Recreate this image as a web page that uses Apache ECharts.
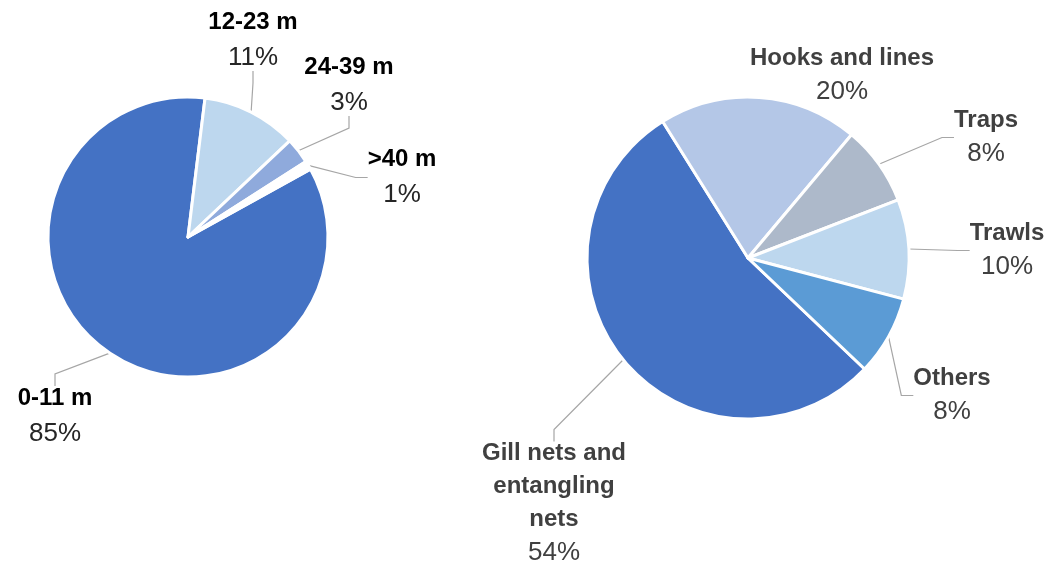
<!DOCTYPE html>
<html>
<head>
<meta charset="utf-8">
<script src="https://cdn.jsdelivr.net/npm/echarts@6/dist/echarts.min.js"></script>
<style>
  html, body { margin: 0; padding: 0; background: #ffffff; }
  #chart { width: 1048px; height: 563px; }
</style>
</head>
<body>
<div id="chart"></div>
<script>
// Fleet by vessel length
const lengthClasses = ['0-11 m', '12-23 m', '24-39 m', '>40 m'];
const lengthShares = [85, 11, 3, 1];

// Fleet by main fishing gear
const gearTypes = ['Gill nets and\nentangling\nnets', 'Hooks and lines', 'Traps', 'Trawls', 'Others'];
const gearShares = [54, 20, 8, 10, 8];

// Slice colours
const lengthColors = ['#4472C4', '#BDD7EE', '#8FAADC', '#FFFFFF'];
const gearColors = ['#4472C4', '#B4C7E7', '#ADB9CA', '#BDD7EE', '#5B9BD5'];

// Label anchor points (centre of each label block), in pixels
const lengthLabelAt = [[55, 416], [253, 40], [349, 85], [402, 177]];
const gearLabelAt = [[554, 503], [842, 75], [986, 137], [1007, 250], [952, 395]];

const FONT = '"Liberation Sans", Arial, sans-serif';

function richLabel(nameColor, pctColor, lh) {
  return {
    n: { fontFamily: FONT, fontWeight: 'bold', fontSize: 24, color: nameColor, lineHeight: lh, align: 'center' },
    p: { fontFamily: FONT, fontWeight: 'normal', fontSize: 26, color: pctColor, lineHeight: lh, align: 'center' }
  };
}

function formatLabel(p) {
  const lines = p.name.split('\n').map(s => '{n|' + s + '}');
  lines.push('{p|' + p.value + '%}');
  return lines.join('\n');
}

function pieSeries(cfg) {
  return {
    type: 'pie',
    center: cfg.center,
    radius: cfg.radius,
    startAngle: cfg.startAngle,
    clockwise: true,
    avoidLabelOverlap: false,
    silent: true,
    itemStyle: { borderColor: '#ffffff', borderWidth: 3 },
    label: {
      show: true,
      position: 'outside',
      formatter: formatLabel,
      rich: richLabel(cfg.nameColor, cfg.pctColor, cfg.lineHeight)
    },
    labelLine: {
      show: true,
      length: 10,
      length2: 12,
      smooth: false,
      lineStyle: { color: '#A6A6A6', width: 1.2 }
    },
    labelLayout: function (params) {
      const at = cfg.labelAt[params.dataIndex];
      return { x: at[0], y: at[1], align: 'center', verticalAlign: 'middle' };
    },
    data: cfg.names.map((name, i) => {
      const item = { name: name, value: cfg.values[i], itemStyle: { color: cfg.colors[i] } };
      if (cfg.noLine && cfg.noLine.indexOf(i) >= 0) item.labelLine = { show: false };
      return item;
    })
  };
}

const chart = echarts.init(document.getElementById('chart'), null, { renderer: 'canvas' });
chart.setOption({
  animation: false,
  backgroundColor: '#ffffff',
  series: [
    pieSeries({
      center: [188, 237], radius: 140, startAngle: 29,
      names: lengthClasses, values: lengthShares, colors: lengthColors,
      labelAt: lengthLabelAt, nameColor: '#000000', pctColor: '#262626', lineHeight: 36
    }),
    pieSeries({
      center: [748, 258], radius: 161, startAngle: -43.6,
      names: gearTypes, values: gearShares, colors: gearColors,
      labelAt: gearLabelAt, nameColor: '#404040', pctColor: '#404040', lineHeight: 33,
      noLine: [1]
    })
  ]
});
</script>
</body>
</html>
